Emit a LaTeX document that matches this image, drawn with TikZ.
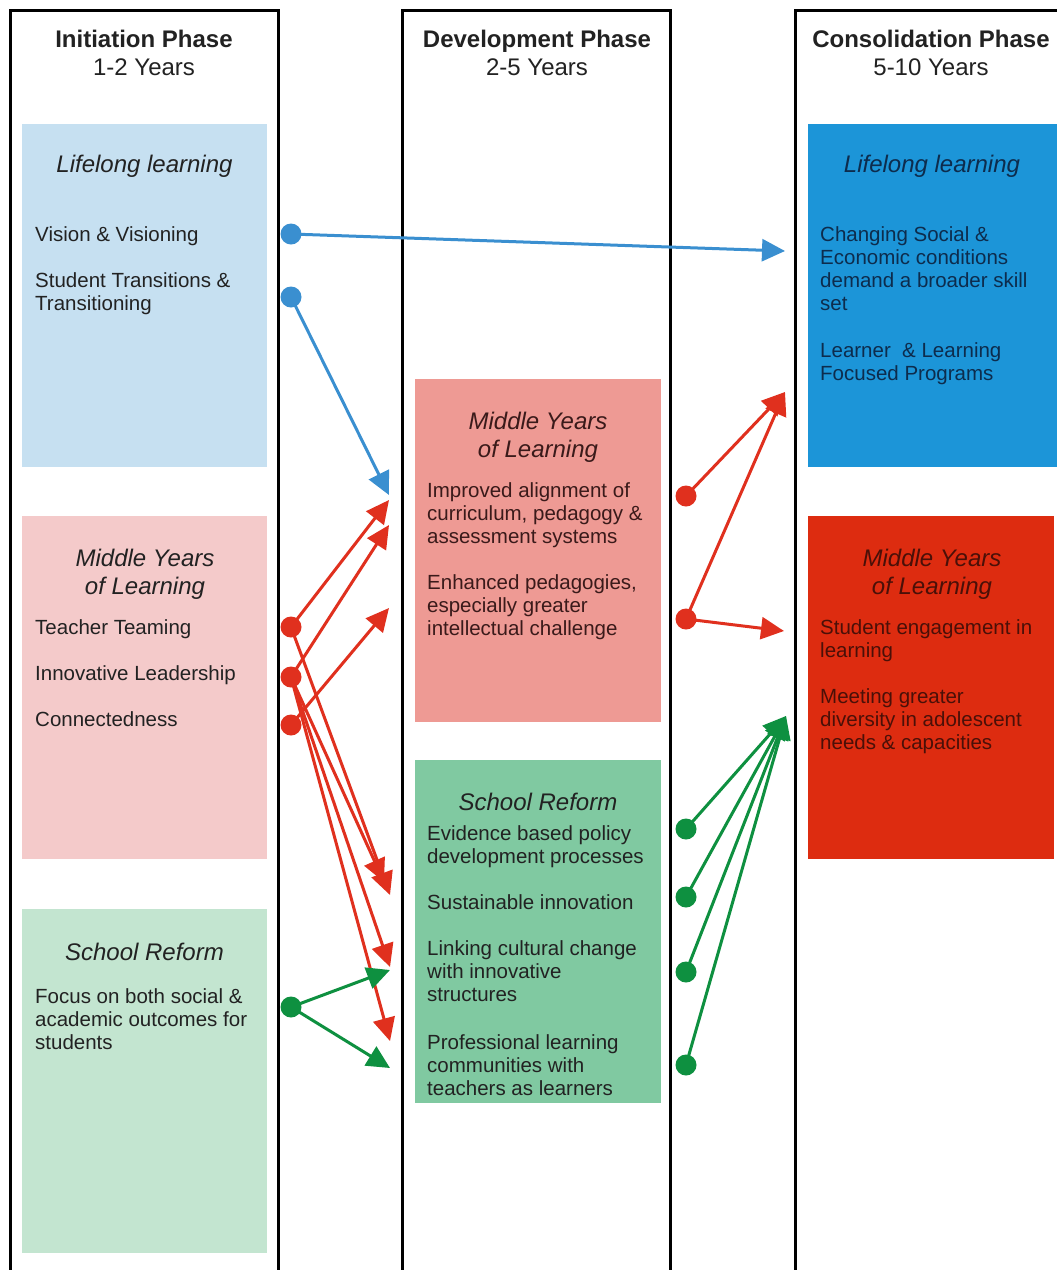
\documentclass[tikz,border=0pt]{standalone}
\usepackage{fontspec}
\setmainfont{Liberation Sans}
\usetikzlibrary{arrows.meta}

\definecolor{ink}{HTML}{222222}
\definecolor{boxLL}{HTML}{C6E0F1}
\definecolor{boxMY}{HTML}{F4CACA}
\definecolor{boxSR}{HTML}{C3E5D0}
\definecolor{boxMYmid}{HTML}{EE9A94}
\definecolor{boxSRmid}{HTML}{80C9A1}
\definecolor{boxLLend}{HTML}{1C95D8}
\definecolor{boxMYend}{HTML}{DD2C10}
\definecolor{inkblue}{HTML}{0D2C4D}
\definecolor{inkred}{HTML}{4A1008}
\definecolor{inkmid}{HTML}{3A1A1A}
\definecolor{arrblue}{HTML}{3A8FD0}
\definecolor{arrred}{HTML}{E0301E}
\definecolor{arrgreen}{HTML}{0E9040}

\begin{document}
\begin{tikzpicture}[x=1pt,y=-1pt,
  phase/.style={line width=3pt, black},
  panel/.style={anchor=north west, inner sep=0, outer sep=0, minimum width=245, minimum height=343},
  % multi-line texts are placed by the baseline of their last line
  head/.style={font=\fontsize{24}{28}\selectfont, align=center, anchor=base, inner sep=0, text=ink},
  ttl/.style={font=\fontsize{24}{28}\selectfont\itshape, align=center, anchor=base, inner sep=0, text=ink},
  body/.style={font=\fontsize{20.5}{23}\selectfont, align=left, anchor=base west, inner sep=0, text=ink},
  link/.style={line width=3pt, -{Triangle[length=23pt,width=22pt]}},
  dot/.style={circle, inner sep=0, minimum size=21pt},
]
\useasboundingbox (0,0) rectangle (1057,1270);
\fill[white] (0,0) rectangle (1057,1270);

% phase columns (open at the bottom)
\draw[phase] (10,1275) -- (10,10) -- (278,10) -- (278,1275);
\draw[phase] (402,1275) -- (402,10) -- (670,10) -- (670,1275);
\draw[phase] (795,1275) -- (795,10) -- (1065,10);

% coloured panels
\node[panel, fill=boxLL] (pLLa) at (22,124) {};
\node[panel, fill=boxMY] (pMYa) at (22,516) {};
\node[panel, fill=boxSR, minimum height=344] (pSRa) at (22,909) {};
\node[panel, fill=boxMYmid, minimum width=246] (pMYb) at (415,379) {};
\node[panel, fill=boxSRmid, minimum width=246] (pSRb) at (415,760) {};
\node[panel, fill=boxLLend, minimum width=250] (pLLc) at (808,124) {};
\node[panel, fill=boxMYend, minimum width=246] (pMYc) at (808,516) {};

% headers
\node[head] (h1) at (144,75.5) {\textbf{Initiation Phase}\\1-2 Years};
\node[head] (h2) at (537,75.5) {\textbf{Development Phase}\\2-5 Years};
\node[head] (h3) at (931,75.5) {\textbf{Consolidation Phase}\\5-10 Years};

% initiation phase
\node[ttl] (llA) at (144.5,172) {Lifelong learning};
\node[body] (vis) at (35,241) {Vision \& Visioning};
\node[body] (stu) at (35,310) {Student Transitions \&\\Transitioning};
\node[ttl] (myA) at (145,594) {Middle Years\\of Learning};
\node[body] (tt) at (35,634) {Teacher Teaming};
\node[body] (il) at (35,680) {Innovative Leadership};
\node[body] (cn) at (35,726) {Connectedness};
\node[ttl] (srA) at (144.5,960) {School Reform};
\node[body] (fo) at (35,1049) {Focus on both social \&\\academic outcomes for\\students};

% development phase
\node[ttl, text=inkmid] (myB) at (538,457) {Middle Years\\of Learning};
\node[body, text=inkmid] (ia) at (427,543) {Improved alignment of\\curriculum, pedagogy \&\\assessment systems};
\node[body, text=inkmid] (ep) at (427,635) {Enhanced pedagogies,\\especially greater\\intellectual challenge};
\node[ttl] (srB) at (538,810) {School Reform};
\node[body] (eb) at (427,863) {Evidence based policy\\development processes};
\node[body] (si) at (427,909) {Sustainable innovation};
\node[body] (lc) at (427,1001) {Linking cultural change\\with innovative\\structures};
\node[body] (pl) at (427,1095) {Professional learning\\communities with\\teachers as learners};

% consolidation phase
\node[ttl, text=inkblue] (llC) at (932,172) {Lifelong learning};
\node[body, text=inkblue] (cs) at (820,310) {Changing Social \&\\Economic conditions\\demand a broader skill\\set};
\node[body, text=inkblue] (lf) at (820,380) {Learner\ \ \& Learning\\Focused Programs};
\node[ttl, text=inkred] (myC) at (932,594) {Middle Years\\of Learning};
\node[body, text=inkred] (se) at (820,657) {Student engagement in\\learning};
\node[body, text=inkred] (mg) at (820,749) {Meeting greater\\diversity in adolescent\\needs \& capacities};

% link origins
\coordinate (b1) at (291,234);
\coordinate (b2) at (291,297);
\coordinate (r1) at (291,627);
\coordinate (r2) at (291,677);
\coordinate (r3) at (291,725);
\coordinate (g0) at (291,1007);
\coordinate (m1) at (686,496);
\coordinate (m2) at (686,619);
\coordinate (g1) at (686,829);
\coordinate (g2) at (686,897);
\coordinate (g3) at (686,972);
\coordinate (g4) at (686,1065);

% link targets
\coordinate (tb1) at (785,251);
\coordinate (tb2) at (389,495);
\coordinate (tu1) at (389,500);
\coordinate (tu2) at (389,525);
\coordinate (tu3) at (389,608);
\coordinate (td1) at (390,895);
\coordinate (td2) at (384,882);
\coordinate (td3) at (390,967);
\coordinate (td4) at (390,1041);
\coordinate (tg1) at (390,970);
\coordinate (tg2) at (390,1068);
\coordinate (tm1) at (785,392);
\coordinate (tm2) at (784,631);
\coordinate (tg) at (786,716);

% blue links
\draw[link, arrblue] (b1) -- (tb1);
\draw[link, arrblue] (b2) -- (tb2);
% red links
\draw[link, arrred] (r1) -- (tu1);
\draw[link, arrred] (r2) -- (tu2);
\draw[link, arrred] (r3) -- (tu3);
\draw[link, arrred] (r1) -- (td1);
\draw[link, arrred] (r2) -- (td2);
\draw[link, arrred] (r2) -- (td3);
\draw[link, arrred] (r2) -- (td4);
\draw[link, arrred] (m1) -- (tm1);
\draw[link, arrred] (m2) -- (tm1);
\draw[link, arrred] (m2) -- (tm2);
% green links
\draw[link, arrgreen] (g0) -- (tg1);
\draw[link, arrgreen] (g0) -- (tg2);
\draw[link, arrgreen] (g1) -- (tg);
\draw[link, arrgreen] (g2) -- (tg);
\draw[link, arrgreen] (g3) -- (tg);
\draw[link, arrgreen] (g4) -- (tg);

% dots on the link origins
\foreach \p in {b1,b2} \node[dot, fill=arrblue] (d\p) at (\p) {};
\foreach \p in {r1,r2,r3,m1,m2} \node[dot, fill=arrred] (d\p) at (\p) {};
\foreach \p in {g0,g1,g2,g3,g4} \node[dot, fill=arrgreen] (d\p) at (\p) {};
\end{tikzpicture}
\end{document}
